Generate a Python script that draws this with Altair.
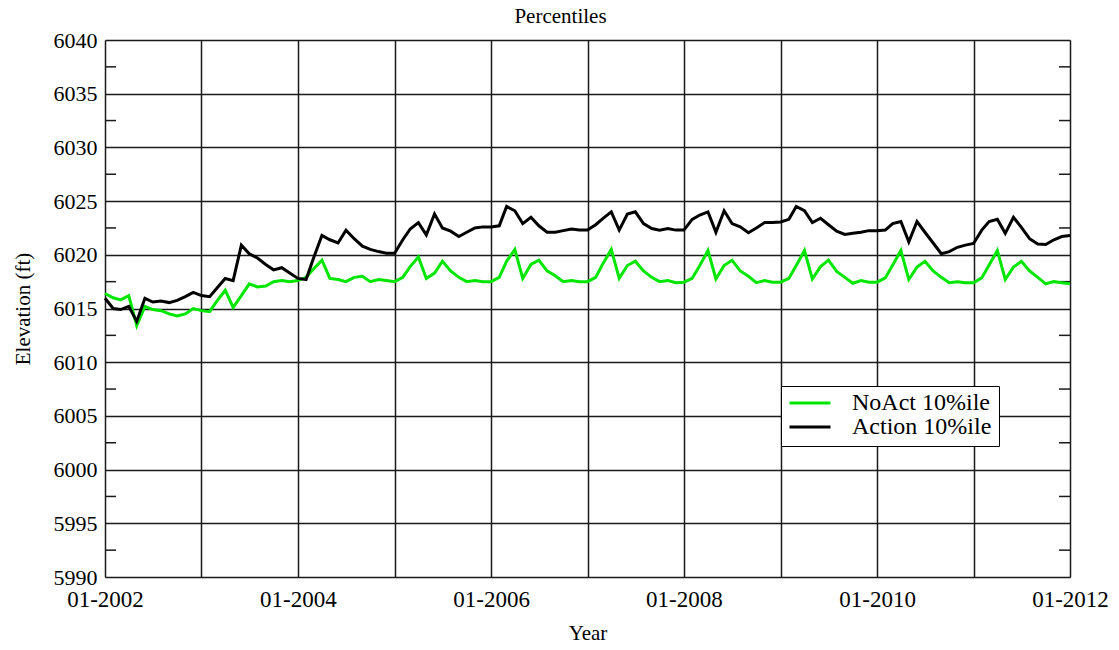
import altair as alt
import pandas as pd

# Monthly reservoir elevation percentiles, Jan 2002 - Jan 2012
months = pd.date_range("2002-01-01", "2012-01-01", freq="MS").strftime("%Y-%m-%d").tolist()

noact_10 = [
    6016.4, 6016.0, 6015.8, 6016.2, 6013.4, 6015.2, 6014.9, 6014.8, 6014.5, 6014.3, 6014.5, 6015.0,
    6014.8, 6014.7, 6015.7, 6016.7, 6015.1, 6016.2, 6017.3, 6017.0, 6017.1, 6017.5, 6017.6, 6017.5,
    6017.6, 6017.9, 6018.7, 6019.5, 6017.8, 6017.7, 6017.5, 6017.9, 6018.0, 6017.5, 6017.7, 6017.6,
    6017.5, 6017.9, 6018.9, 6019.8, 6017.8, 6018.3, 6019.4, 6018.5, 6017.9, 6017.5, 6017.6, 6017.5,
    6017.5, 6017.9, 6019.4, 6020.5, 6017.8, 6019.1, 6019.5, 6018.5, 6018.05, 6017.5, 6017.6, 6017.5,
    6017.5, 6017.9, 6019.2, 6020.5, 6017.8, 6019.0, 6019.4, 6018.5, 6017.9, 6017.5, 6017.6, 6017.4,
    6017.45, 6017.8, 6019.0, 6020.4, 6017.75, 6019.0, 6019.5, 6018.5, 6018.0, 6017.4, 6017.6, 6017.45,
    6017.45, 6017.8, 6019.0, 6020.4, 6017.75, 6018.9, 6019.5, 6018.45, 6017.9, 6017.35, 6017.6, 6017.45,
    6017.45, 6017.85, 6019.05, 6020.4, 6017.7, 6018.85, 6019.4, 6018.5, 6017.9, 6017.4, 6017.5, 6017.4,
    6017.4, 6017.85, 6019.05, 6020.4, 6017.7, 6018.85, 6019.4, 6018.5, 6017.9, 6017.3, 6017.5, 6017.4,
    6017.3,
]

action_10 = [
    6015.95, 6015.0, 6014.9, 6015.2, 6013.8, 6015.95, 6015.6, 6015.7, 6015.55, 6015.75, 6016.1, 6016.5,
    6016.2, 6016.1, 6016.9, 6017.8, 6017.6, 6020.9, 6020.1, 6019.7, 6019.1, 6018.6, 6018.8, 6018.3,
    6017.8, 6017.7, 6019.75, 6021.8, 6021.4, 6021.1, 6022.3, 6021.5, 6020.8, 6020.5, 6020.3, 6020.15,
    6020.15, 6021.4, 6022.4, 6023.0, 6021.85, 6023.8, 6022.5, 6022.2, 6021.7, 6022.1, 6022.5, 6022.6,
    6022.6, 6022.7, 6024.5, 6024.1, 6022.9, 6023.5, 6022.7, 6022.1, 6022.1, 6022.25, 6022.4, 6022.3,
    6022.3, 6022.8, 6023.4, 6024.0, 6022.3, 6023.8, 6024.0, 6022.9, 6022.45, 6022.3, 6022.45, 6022.3,
    6022.3, 6023.3, 6023.7, 6024.0, 6022.1, 6024.1, 6022.9, 6022.6, 6022.05, 6022.5, 6023.0, 6023.0,
    6023.05, 6023.3, 6024.5, 6024.1, 6023.0, 6023.4, 6022.8, 6022.2, 6021.9, 6022.0, 6022.1, 6022.25,
    6022.25, 6022.3, 6022.9, 6023.1, 6021.2, 6023.1, 6022.1, 6021.1, 6020.1, 6020.3, 6020.7, 6020.9,
    6021.05, 6022.3, 6023.1, 6023.3, 6022.0, 6023.5, 6022.55, 6021.5, 6021.0, 6020.95, 6021.4, 6021.7,
    6021.8,
]

series_names = ["NoAct 10%ile", "Action 10%ile"]
series_colors = ["#00e600", "#000000"]

y_major = [5990, 5995, 6000, 6005, 6010, 6015, 6020, 6025, 6030, 6035, 6040]
y_minor = [5992.5, 5997.5, 6002.5, 6007.5, 6012.5, 6017.5, 6022.5, 6027.5, 6032.5, 6037.5]
grid_years = [2002, 2003, 2004, 2005, 2006, 2007, 2008, 2009, 2010, 2011, 2012]

W, H = 965, 537
FONT = "Liberation Serif"
INK = "#1a1a1a"

df = pd.DataFrame(
    {
        "date": months * 2,
        "elev": noact_10 + action_10,
        "series": [series_names[0]] * len(months) + [series_names[1]] * len(months),
    }
)

x_scale = alt.Scale(
    type="utc",
    domain=[alt.DateTime(year=2002, month=1, date=1, utc=True),
            alt.DateTime(year=2012, month=1, date=1, utc=True)],
)
y_scale = alt.Scale(domain=[5990, 6040], nice=False, zero=False)

lines = alt.Chart(df).mark_line(strokeWidth=3, strokeJoin="miter").encode(
    x=alt.X(
        "date:T",
        scale=x_scale,
        axis=alt.Axis(
            title="Year",
            values=[alt.DateTime(year=y, month=1, date=1, utc=True) for y in grid_years],
            labelExpr="utcyear(datum.value) % 2 == 0 ? utcFormat(datum.value, '%m-%Y') : ''",
            ticks=False,
            domain=False,
            grid=True,
            gridColor=INK,
            gridWidth=1.5,
            gridOpacity=1,
            labelFontSize=23,
            labelPadding=11,
            labelFlush=False,
            labelColor="#000",
            labelFont=FONT,
            titleFont=FONT,
            titleFontSize=21,
            titleFontWeight="normal",
            titleColor="#000",
            titlePadding=11,
            labelOverlap=False,
        ),
    ),
    y=alt.Y(
        "elev:Q",
        scale=y_scale,
        axis=alt.Axis(
            title="Elevation (ft)",
            values=y_major,
            format="d",
            ticks=False,
            domain=False,
            grid=True,
            gridColor=INK,
            gridWidth=1.5,
            gridOpacity=1,
            labelFontSize=22,
            labelPadding=8,
            labelFlush=False,
            labelColor="#000",
            labelFont=FONT,
            titleFont=FONT,
            titleFontSize=21,
            titleFontWeight="normal",
            titleColor="#000",
            titlePadding=20,
        ),
    ),
    color=alt.Color(
        "series:N",
        scale=alt.Scale(domain=series_names, range=series_colors),
        sort=series_names,
        legend=alt.Legend(
            title=None,
            orient="none",
            legendX=676,
            legendY=346,
            symbolType="stroke",
            symbolSize=1681,
            symbolStrokeWidth=3,
            clipHeight=20,
            labelFont=FONT,
            labelFontSize=24,
            labelColor="#000",
            labelOffset=20,
            rowPadding=0,
            padding=7,
            strokeColor="#000",
            fillColor="#fff",
            cornerRadius=0,
            offset=0,
        ),
    ),
)

minor = pd.DataFrame({"v": y_minor})
left_ticks = alt.Chart(minor).mark_rule(color=INK, strokeWidth=1.5).encode(
    y=alt.Y("v:Q", scale=y_scale), x=alt.value(0), x2=alt.value(11)
)
right_ticks = alt.Chart(minor).mark_rule(color=INK, strokeWidth=1.5).encode(
    y=alt.Y("v:Q", scale=y_scale), x=alt.value(W - 11), x2=alt.value(W)
)

chart = (
    alt.layer(left_ticks, right_ticks, lines)
    .properties(
        width=W,
        height=H,
        title=alt.Title(
            "Percentiles",
            font=FONT,
            fontSize=21,
            fontWeight="normal",
            color="#000",
            anchor="middle",
            frame="group",
            dx=-27,
            offset=2,
        ),
        padding={"left": 105, "top": 40, "right": 49, "bottom": 73},
        autosize=alt.AutoSizeParams(type="none"),
    )
    .configure_view(stroke=INK, strokeWidth=2)
    .configure(background="white")
)

chart.save("out.html", embed_options={"renderer": "svg", "actions": False})
